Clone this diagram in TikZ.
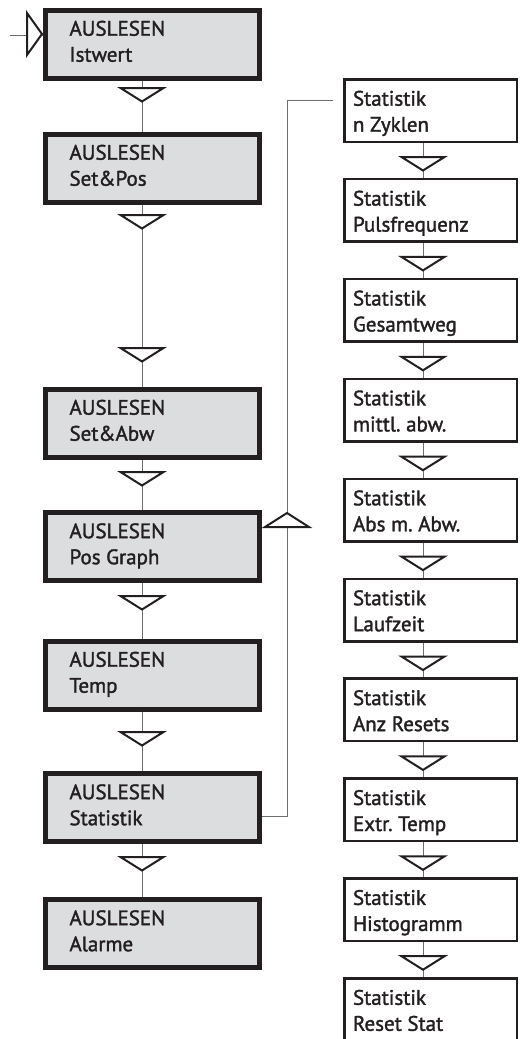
\documentclass[tikz,border=0pt]{standalone}
\usepackage{fontspec}
\setmainfont{PT Sans}[FakeBold=1.6]
\usetikzlibrary{calc}
\frenchspacing
\definecolor{ink}{HTML}{231F20}
\definecolor{boxgray}{HTML}{DCDDDF}
\definecolor{linegray}{HTML}{6D6E70}
\begin{document}
\begin{tikzpicture}[x=1pt,y=1pt,
  lbox/.style={draw=ink, line width=5pt, fill=boxgray, minimum width=214pt, minimum height=68pt, inner sep=0pt},
  rbox/.style={draw=ink, line width=2.5pt, fill=white, minimum width=172.5pt, minimum height=62.5pt, inner sep=0pt},
  lbl/.style={anchor=base west, inner sep=0pt, outer sep=0pt, text=ink, font=\fontsize{21}{26}\selectfont},
  conn/.style={draw=linegray, line width=1pt},
  tri/.style={draw=ink, line width=2pt, fill=white, line join=miter},
  dtri/.pic={\draw[tri] (-21.5,0) -- (21.5,0) -- (0,-13.5) -- cycle;},
  utri/.pic={\draw[tri] (-22,0) -- (22,0) -- (0,14) -- cycle;}
]
\useasboundingbox (0,0) rectangle (520,-1039);
\coordinate (cxl) at (142,0);
\coordinate (cxr) at (423,0);
\coordinate (fbx) at (287,0);

% left column
\foreach \n/\y/\t in {l1/44/Istwert, l2/168/Set\&Pos, l3/423/Set\&Abw, l4/546.5/Pos Graph, l5/675/Temp, l6/807.5/Statistik, l7/933.5/Alarme}{
  \node[lbox] (\n) at (152.5,-\y) {};
  \node[lbl] (\n t) at ($(\n.north west)+(26.5,-28.2)$) {\vtop{\hbox{AUSLESEN}\hbox{\t}}};
}

% right column
\foreach \n/\t [count=\i from 0] in {r1/n Zyklen, r2/Pulsfrequenz, r3/Gesamtweg, r4/mittl. abw., r5/Abs m. Abw., r6/Laufzeit, r7/Anz Resets, r8/Extr. Temp, r9/Histogramm, r10/Reset Stat}{
  \node[rbox] (\n) at (430.5,{-110.5-99.9*\i}) {};
  \node[lbl] (\n t) at ($(\n.north west)+(10,-27.7)$) {\vtop{\hbox{Statistik}\hbox{\t}}};
}

% entry
\coordinate (start) at (10,-35);
\draw[conn] (start) -- (start -| l1.west);
\draw[tri] (27,-13) -- (27,-55) -- (42,-34) -- cycle;

% left connectors
\foreach \a/\b in {l1/l2, l2/l3, l3/l4, l4/l5, l5/l6, l6/l7}{
  \draw[conn] (\a.south -| cxl) -- (\b.north -| cxl);
}
\foreach \y in {88, 215, 348, 472, 596, 732, 857}{
  \pic at ($(cxl)+(0,-\y)$) {dtri};
}

% right connectors
\foreach \a/\b in {r1/r2, r2/r3, r3/r4, r4/r5, r5/r6, r6/r7, r7/r8, r8/r9, r9/r10}{
  \draw[conn] (\a.south -| cxr) -- (\b.north -| cxr);
  \pic at ($(\a.south -| cxr)+(0,-14)$) {dtri};
}

% feedback loop
\draw[conn] ([yshift=-8.5pt]l6.east) -| ([yshift=10.5pt]r1.west -| fbx) -- ([xshift=-10pt,yshift=10.5pt]r1.west);
\pic at ($(fbx)+(0,-527)$) {utri};
\end{tikzpicture}
\end{document}
